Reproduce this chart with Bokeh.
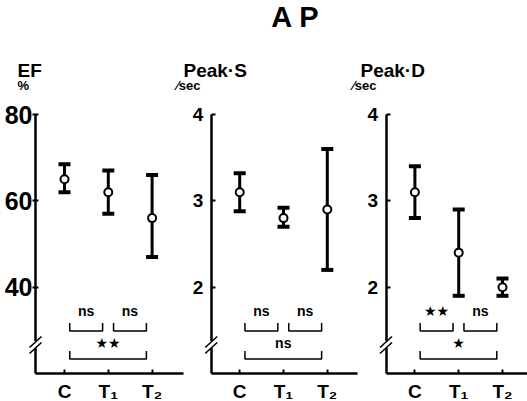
from bokeh.plotting import figure
from bokeh.models import (Range1d, FixedTicker, ColumnDataSource, Whisker,
                          TeeHead, Label, LinearAxis)
from bokeh.embed import file_html
from bokeh.resources import INLINE

# ---------------- data ----------------
categories = ["C", "T₁", "T₂"]

ef_mean = [65.0, 62.0, 56.0]
ef_lower = [62.0, 57.0, 47.0]
ef_upper = [68.5, 67.0, 66.0]

ps_mean = [3.1, 2.8, 2.9]
ps_lower = [2.88, 2.7, 2.2]
ps_upper = [3.32, 2.92, 3.6]

pd_mean = [3.1, 2.4, 2.0]
pd_lower = [2.8, 1.9, 1.9]
pd_upper = [3.4, 2.9, 2.1]

comparisons = [(0, 1), (1, 2), (0, 2)]
ef_sig = ["ns", "ns", "★★"]
ps_sig = ["ns", "ns", "ns"]
pd_sig = ["★★", "ns", "★"]

ef_ticks = [40, 60, 80]
ps_ticks = [2, 3, 4]
pd_ticks = [2, 3, 4]

panel_names = ["EF", "Peak·S", "Peak·D"]
panel_units = ["%", "⁄sec", "⁄sec"]
chart_title = "A P"

# ---------------- layout / style ----------------
FONT = "Liberation Sans"
W, H = 527, 401
PPU = 43.8            # px per category step
X_ORIGIN = 64.0       # px of first category of first panel
Y_AXIS_BOTTOM = 373.0 # px of x axes
Y_AXIS_TOP = 114.0
PANEL_OFFSET = [0, 4, 8]


def xd(px):
    return (px - X_ORIGIN) / PPU


x_start, x_end = xd(0), xd(W)

k_main = (Y_AXIS_BOTTOM - Y_AXIS_TOP) / 3.0
main_lo = 1 - (H - Y_AXIS_BOTTOM) / k_main
main_hi = 4 + Y_AXIS_TOP / k_main
k_ef = (Y_AXIS_BOTTOM - Y_AXIS_TOP) / 60.0
ef_lo = 20 - (H - Y_AXIS_BOTTOM) / k_ef
ef_hi = 80 + Y_AXIS_TOP / k_ef


def yd_main(py):
    return 1 + (Y_AXIS_BOTTOM - py) / k_main


def yd_ef(py):
    return 20 + (Y_AXIS_BOTTOM - py) / k_ef


p = figure(width=W, height=H, output_backend="svg", toolbar_location=None,
           x_range=Range1d(x_start, x_end), y_range=Range1d(main_lo, main_hi),
           x_axis_location=None, y_axis_location=None,
           min_border=0, background_fill_color="white", border_fill_color="white")
p.extra_y_ranges = {"ef": Range1d(ef_lo, ef_hi)}
p.outline_line_color = None
p.grid.visible = False

panels = [
    dict(mean=ef_mean, lo=ef_lower, hi=ef_upper, sig=ef_sig, ticks=ef_ticks,
         yr="ef", yd=yd_ef, bounds=(20, 80), axis_px=35.0, right_px=183.0,
         tick_size="25px", tick_in=3, tick_out=3, standoff=0,
         name_px=17, unit_px=17),
    dict(mean=ps_mean, lo=ps_lower, hi=ps_upper, sig=ps_sig, ticks=ps_ticks,
         yr="default", yd=yd_main, bounds=(1, 4), axis_px=210.7, right_px=357.0,
         tick_size="19px", tick_in=4, tick_out=0, standoff=8,
         name_px=183, unit_px=176),
    dict(mean=pd_mean, lo=pd_lower, hi=pd_upper, sig=pd_sig, ticks=pd_ticks,
         yr="default", yd=yd_main, bounds=(1, 4), axis_px=385.5, right_px=527.0,
         tick_size="19px", tick_in=4, tick_out=0, standoff=8,
         name_px=360, unit_px=352),
]

for i, pn in enumerate(panels):
    off = PANEL_OFFSET[i]
    xs_cat = [off + j for j in range(len(categories))]
    yd = pn["yd"]
    yr = pn["yr"]
    ax_x = xd(pn["axis_px"])

    # y axis
    ya = LinearAxis(y_range_name=yr, fixed_location=ax_x, bounds=pn["bounds"],
                    ticker=FixedTicker(ticks=pn["ticks"]))
    ya.major_label_text_font = FONT
    ya.major_label_text_font_style = "bold"
    ya.major_label_text_font_size = pn["tick_size"]
    ya.major_label_text_color = "black"
    ya.major_label_standoff = pn["standoff"]
    ya.axis_line_width = 2.5
    ya.major_tick_line_width = 2
    ya.major_tick_in = pn["tick_in"]
    ya.major_tick_out = pn["tick_out"]
    ya.minor_tick_line_color = None
    p.add_layout(ya, "left")

    # x axis
    xa = LinearAxis(fixed_location=1, bounds=(ax_x, xd(pn["right_px"])),
                    ticker=FixedTicker(ticks=xs_cat))
    xa.major_label_overrides = {x: c for x, c in zip(xs_cat, categories)}
    xa.major_label_text_font = FONT
    xa.major_label_text_font_style = "bold"
    xa.major_label_text_font_size = "19px"
    xa.major_label_text_color = "black"
    xa.major_label_standoff = 7
    xa.axis_line_width = 2.5
    xa.major_tick_line_width = 2
    xa.major_tick_in = 4
    xa.major_tick_out = 0
    xa.minor_tick_line_color = None
    p.add_layout(xa, "below")

    # error bars and means
    src = ColumnDataSource(dict(x=xs_cat, m=pn["mean"], lo=pn["lo"], hi=pn["hi"]))
    p.add_layout(Whisker(source=src, base="x", lower="lo", upper="hi",
                         y_range_name=yr, line_width=3, line_color="black",
                         upper_head=TeeHead(size=12, line_width=4, line_color="black"),
                         lower_head=TeeHead(size=12, line_width=4, line_color="black")))
    p.scatter("x", "m", source=src, y_range_name=yr, size=8, fill_color="white",
              line_color="black", line_width=2, level="overlay")

    # significance brackets
    bx, by = [], []
    for (a, b), s in zip(comparisons, pn["sig"]):
        wide = (b - a) > 1
        bot = yd(358.5) if wide else yd(330.5)
        tip = yd(350.5) if wide else yd(322.5)
        xa_, xb_ = off + a + 0.12, off + b - 0.13
        bx.append([xa_, xa_, xb_, xb_])
        by.append([tip, bot, bot, tip])
        star = "★" in s
        p.add_layout(Label(x=(xa_ + xb_) / 2, y=yd(342) if wide else yd(310),
                           y_range_name=yr, text=s, text_align="center",
                           text_baseline="alphabetic",
                           text_font="DejaVu Sans" if star else FONT,
                           text_font_style="normal" if star else "bold",
                           text_font_size="14px" if star else "14px",
                           text_color="black"))
    p.multi_line(bx, by, y_range_name=yr, line_color="black", line_width=1.5)

    # axis break marks
    dxl = 6 / PPU
    p.segment([ax_x], [yd(347.5)], [ax_x], [yd(340.5)], y_range_name=yr,
              line_color="white", line_width=5, level="overlay")
    p.segment([ax_x - dxl, ax_x - dxl], [yd(347), yd(353)],
              [ax_x + dxl, ax_x + dxl], [yd(336), yd(342)], y_range_name=yr,
              line_color="black", line_width=1.6, level="overlay")

    # headers
    p.add_layout(Label(x=xd(pn["name_px"]), y=yd(70), y_range_name=yr,
                       text=panel_names[i], text_align="left",
                       text_baseline="alphabetic", text_font=FONT,
                       text_font_style="bold", text_font_size="19px",
                       text_color="black"))
    p.add_layout(Label(x=xd(pn["unit_px"]), y=yd(85), y_range_name=yr,
                       text=panel_units[i], text_align="left",
                       text_baseline="alphabetic", text_font=FONT,
                       text_font_style="bold", text_font_size="13px",
                       text_color="black"))

p.add_layout(Label(x=xd(295), y=yd_main(16), text=chart_title, text_align="center",
                   text_baseline="alphabetic", text_font=FONT,
                   text_font_style="bold", text_font_size="29px", text_color="black"))

open("out.html", "w").write(file_html(p, INLINE))
